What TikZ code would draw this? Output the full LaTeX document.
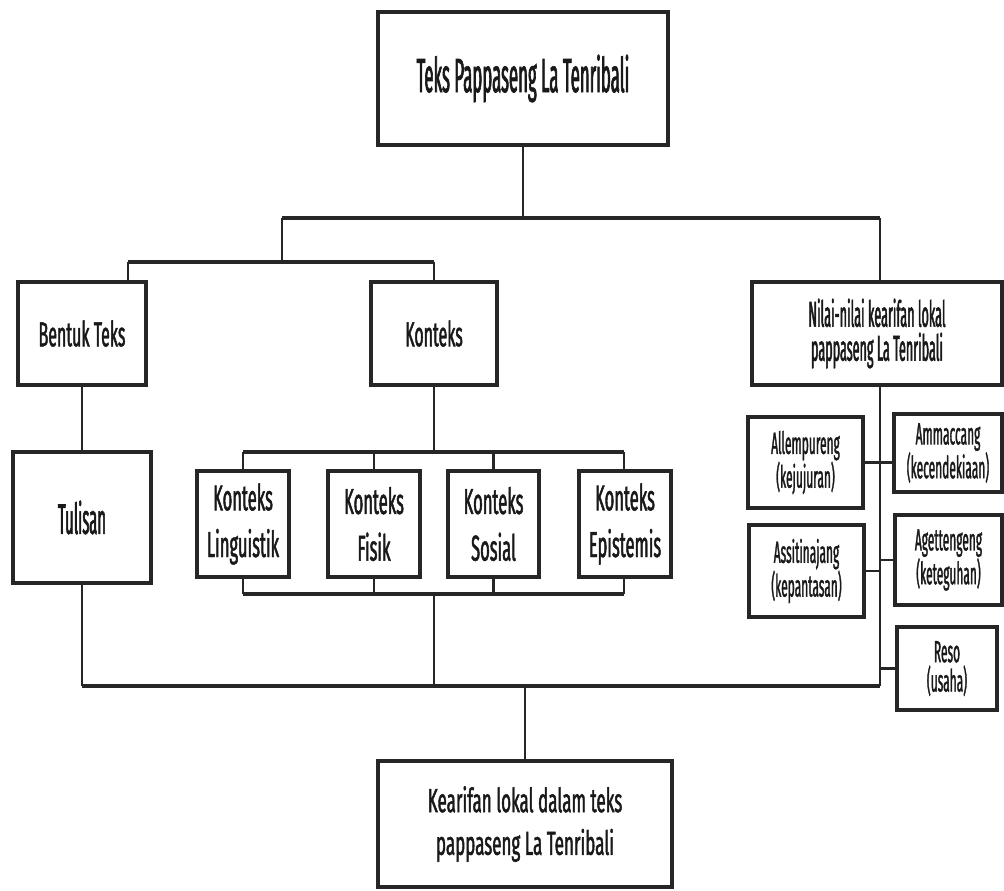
\documentclass[tikz,border=0pt]{standalone}
\usepackage{fontspec}
\setmainfont{Fira Sans}
\newfontfamily\fa{Fira Sans}[FakeStretch=0.35,FakeBold=1.3]
\newfontfamily\fb{Fira Sans}[FakeStretch=0.46,FakeBold=1.3]
\newfontfamily\fd{Fira Sans}[FakeStretch=0.51,FakeBold=1.3]
\newfontfamily\fc{Fira Sans}[FakeStretch=0.39,FakeBold=1.1]
\newcommand{\bx}[7]{\node[box,#6,minimum width={((#4)-(#2))*0.75pt},minimum height={((#5)-(#3))*0.75pt}] (#1) at ({((#2)+(#4))/2},{((#3)+(#5))/2}) {#7};}
\tikzset{
  box/.style={draw=black!85,line width=2.9pt,fill=white,inner sep=0pt,align=center,text=black!90},
  conn/.style={draw=black!85,line width=1.8pt},
  bus/.style={draw=black!85,line width=3pt},
}
\begin{document}
\begin{tikzpicture}[x=0.75pt,y=-0.75pt]
\useasboundingbox[fill=white] (0,0) rectangle (1004,890);
% boxes
\bx{top}{378}{12}{668}{145}{font=\fa\fontsize{36}{40}\selectfont}{Teks Pappaseng La Tenribali}
\bx{bentuk}{18}{282}{146}{385}{font=\fb\fontsize{26}{30}\selectfont}{Bentuk Teks}
\bx{konteks}{371}{282}{497}{385}{font=\fb\fontsize{26}{30}\selectfont}{Konteks}
\bx{nilai}{752}{282}{1002}{385}{font=\fa\fontsize{27}{25.5}\selectfont}{Nilai-nilai kearifan lokal\\pappaseng La Tenribali}
\bx{tulisan}{13}{452}{151}{583}{font=\fa\fontsize{32}{36}\selectfont}{Tulisan}
\bx{kl}{197}{471}{289}{577}{font=\fb\fontsize{27}{35}\selectfont}{Konteks\\Linguistik}
\bx{kf}{328}{471}{420}{577}{font=\fb\fontsize{27}{35}\selectfont}{Konteks\\Fisik}
\bx{ks}{448}{471}{539}{577}{font=\fb\fontsize{27}{35}\selectfont}{Konteks\\Sosial}
\bx{ke}{579}{471}{671}{577}{font=\fb\fontsize{27}{35}\selectfont}{Konteks\\Epistemis}
\bx{allemp}{748}{417}{863}{508}{font=\fc\fontsize{23}{22}\selectfont}{Allempureng\\(kejujuran)}
\bx{ammac}{894}{414}{1002}{492}{font=\fc\fontsize{23}{22}\selectfont}{Ammaccang\\(kecendekiaan)}
\bx{assit}{749}{525}{864}{617}{font=\fc\fontsize{23}{22}\selectfont}{Assitinajang\\(kepantasan)}
\bx{aget}{895}{515}{1002}{605}{font=\fc\fontsize{23}{22}\selectfont}{Agettengeng\\(keteguhan)}
\bx{reso}{897}{627}{997}{710}{font=\fc\fontsize{23}{22}\selectfont}{Reso\\(usaha)}
\bx{kear}{378}{761}{672}{887}{font=\fd\fontsize{25}{32}\selectfont}{Kearifan lokal dalam teks\\pappaseng La Tenribali}
% junctions
\coordinate (j0) at (523,218);
\coordinate (jl) at (282,218);
\coordinate (jr) at (880,218);
\coordinate (jl2) at (282,262);
\coordinate (ka) at (128,262);
\coordinate (kb) at (434,262);
\coordinate (kc) at (434,452);
\coordinate (kc1) at (243,452);
\coordinate (kc2) at (624,452);
\coordinate (kd) at (434,594);
\coordinate (kd1) at (243,594);
\coordinate (kd2) at (624,594);
\coordinate (bl) at (82,686);
\coordinate (bm) at (434,686);
\coordinate (bk) at (525,686);
\coordinate (spine) at (880,686);
% connectors
\draw[conn] (top.south -| j0) -- (j0);
\draw[bus] (jl) -- (jr);
\draw[conn] (jl) -- (jl2);
\draw[bus] (ka) -- (kb);
\draw[conn] (ka) -- (bentuk.north -| ka);
\draw[conn] (kb) -- (konteks.north -| kb);
\draw[conn] (jr) -- (nilai.north -| jr);
\draw[conn] (bentuk.south) -- (tulisan.north);
\draw[conn] (konteks.south -| kc) -- (kc);
\draw[bus] (kc1) -- (kc2);
\draw[conn] (kc1) -- (kl.north -| kc1);
\draw[conn] (kf.north) -- (kf.north |- kc);
\draw[conn] (ks.north) -- (ks.north |- kc);
\draw[conn] (kc2) -- (ke.north -| kc2);
\draw[conn] (kl.south -| kd1) -- (kd1);
\draw[conn] (kf.south) -- (kf.south |- kd);
\draw[conn] (ks.south) -- (ks.south |- kd);
\draw[conn] (ke.south -| kd2) -- (kd2);
\draw[bus] (kd1) -- (kd2);
\draw[conn] (kd) -- (bm);
\draw[conn] (tulisan.south -| bl) -- (bl);
\draw[bus] (bl) -- (spine);
\draw[conn] (nilai.south -| spine) -- (spine);
\draw[conn] (bk) -- (kear.north -| bk);
\draw[conn] (allemp.east) -- (allemp.east -| ammac.west);
\draw[conn] (assit.east) -- (assit.east -| spine);
\draw[conn] (aget.west) -- (aget.west -| spine);
\draw[conn] (reso.west) -- (reso.west -| spine);
\end{tikzpicture}
\end{document}
